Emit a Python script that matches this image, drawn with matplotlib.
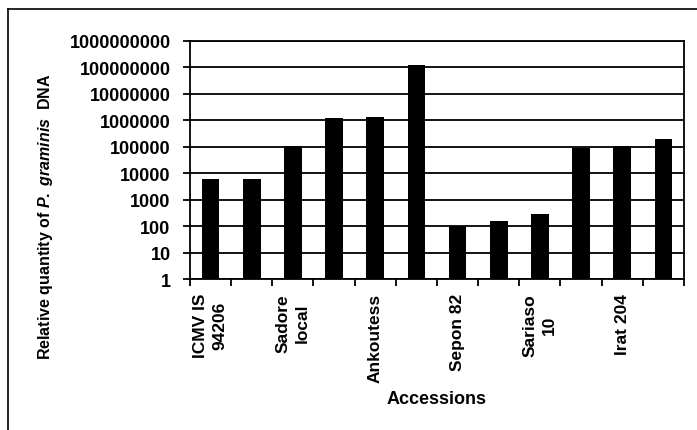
import numpy as np
import matplotlib
matplotlib.use("Agg")
import matplotlib.pyplot as plt
from matplotlib.lines import Line2D

plt.rcParams['font.family'] = ['Liberation Sans', 'DejaVu Sans']
plt.rcParams['mathtext.fontset'] = 'custom'
plt.rcParams['mathtext.rm'] = 'Liberation Sans:bold'
plt.rcParams['mathtext.it'] = 'Liberation Sans:italic:bold'

# values (log scale)
accession_values = [6000, 6000, 110000, 1200000, 1300000, 120000000,
                     105, 160, 300, 90000, 105000, 200000]
label_slots = [0, 2, 4, 6, 8, 10]
label_names = ["ICMV IS\n94206", "Sadore\nlocal", "Ankoutess",
               "Sepon 82", "Sariaso\n10", "Irat 204"]
y_decades = [10 ** k for k in range(10)]

fig = plt.figure(figsize=(6.97, 4.31), dpi=100)
ax = fig.add_axes([0.2726, 0.3503, 0.7087, 0.5523])

x = np.arange(len(accession_values))
ax.bar(x, accession_values, width=0.43, color='black', zorder=3)

ax.set_yscale('log')
ax.set_ylim(1, 1e9)
ax.set_xlim(-0.5, len(accession_values) - 0.5)
ax.set_yticks(y_decades)
ax.set_yticklabels([str(v) for v in y_decades], fontsize=13,
                   fontweight='bold')
ax.yaxis.set_minor_locator(matplotlib.ticker.NullLocator())
ax.grid(True, axis='y', color='black', linewidth=1.3, zorder=1)

# category boundary ticks, labels at category centres
ax.set_xticks(np.arange(len(accession_values) + 1) - 0.5)
ax.set_xticklabels([])
ax.set_xticks(label_slots, label_names, minor=True)
ax.tick_params(axis='x', which='major', direction='out', length=5, width=1.3)
ax.tick_params(axis='x', which='minor', length=0, pad=10)
ax.tick_params(axis='y', direction='out', length=5, width=1.3, pad=9)
for lbl in ax.get_xticklabels(minor=True):
    lbl.set_rotation(90)
    lbl.set_va('top')
    lbl.set_ha('center')
    lbl.set_multialignment('center')
    lbl.set_fontsize(12.5)
    lbl.set_fontweight('bold')
    lbl.set_linespacing(1.35)

for side in ['left', 'right', 'bottom', 'top']:
    ax.spines[side].set_linewidth(1.3)

ax.set_xlabel("Accessions", fontsize=13, fontweight='bold')
ax.xaxis.set_label_coords(0.5, -0.465)
fig.text(46 / 697, 1 - 217 / 431,
         r"Relative quantity of $\mathit{P.\ graminis}$  DNA",
         rotation=90, ha='center', va='center', fontsize=11.5,
         fontweight='bold')

# outer chart frame (left and top edges visible)
fig.add_artist(Line2D([8 / 697, 8 / 697], [0, 1 - 10 / 431],
                      transform=fig.transFigure, color='black', lw=1.2))
fig.add_artist(Line2D([8 / 697, 1], [1 - 10 / 431, 1 - 10 / 431],
                      transform=fig.transFigure, color='black', lw=1.2))

fig.savefig("out.png", dpi=100)
